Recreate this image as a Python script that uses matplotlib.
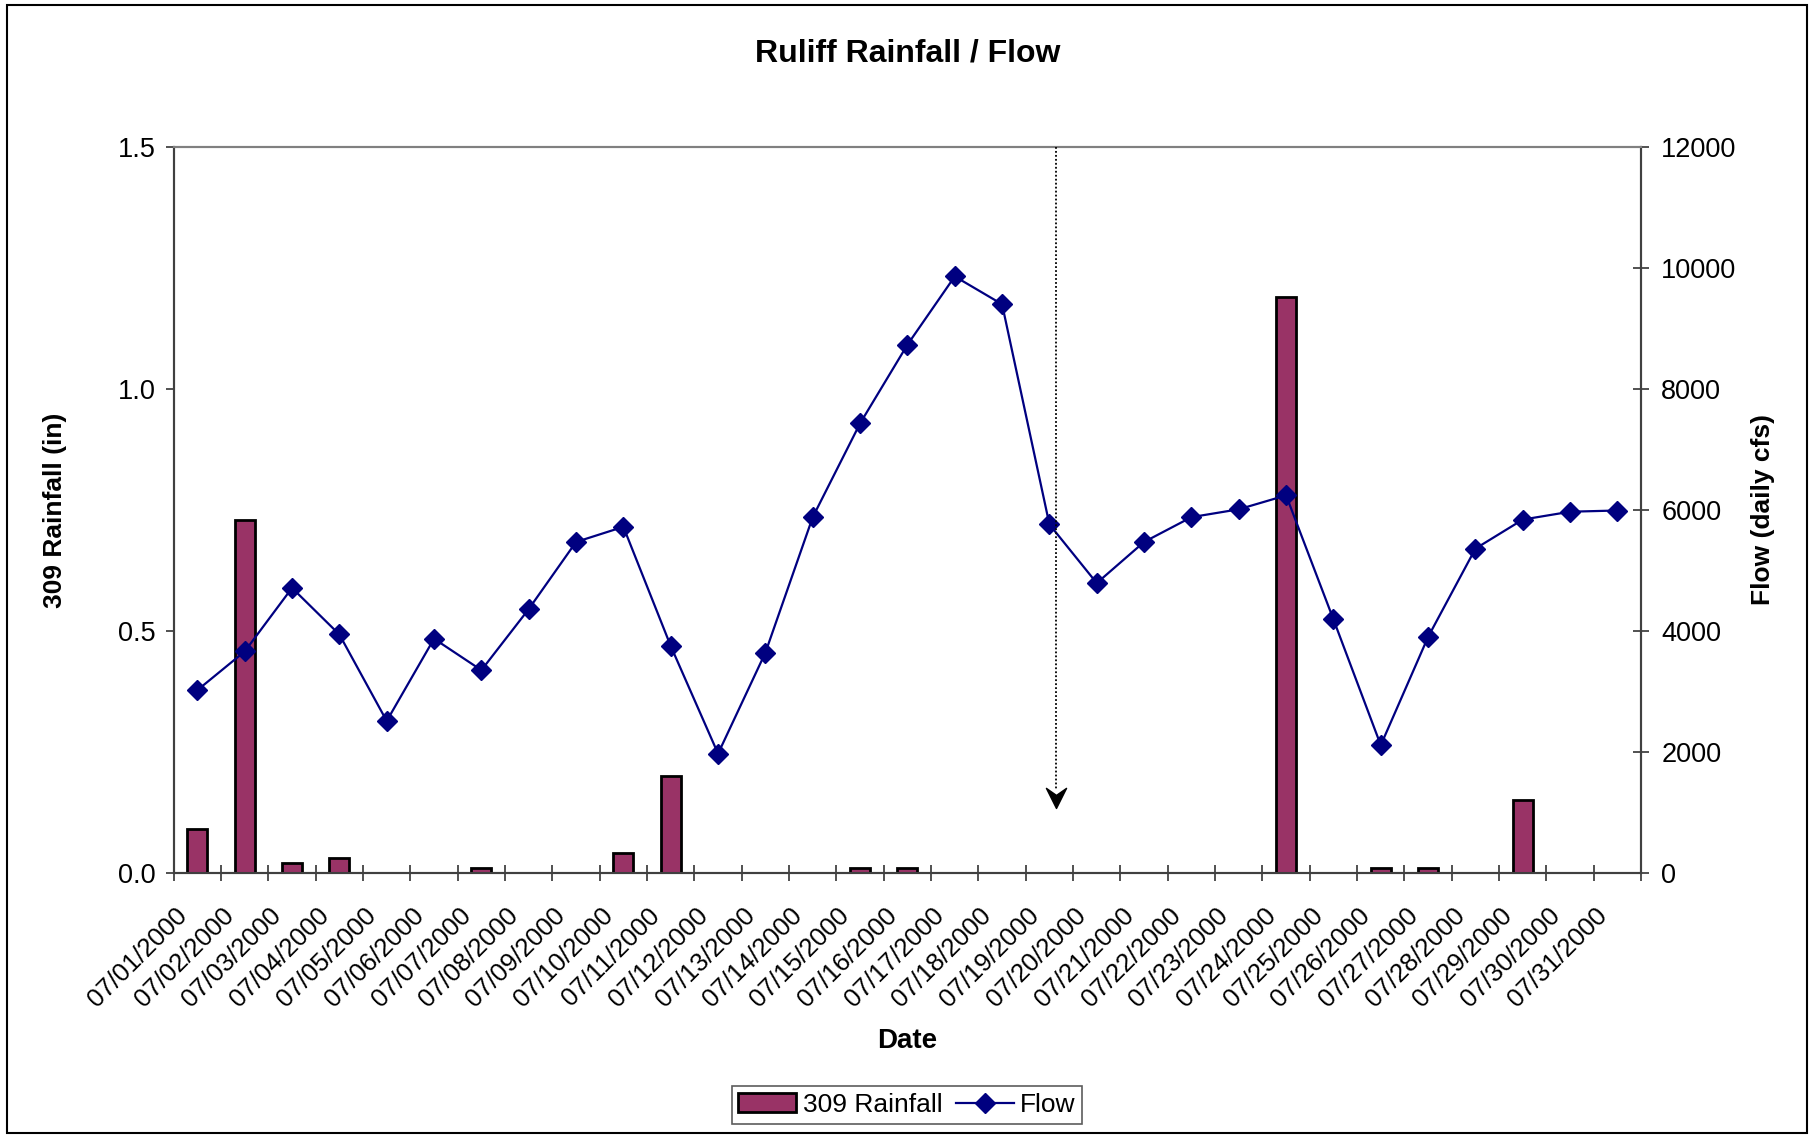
import numpy as np
import matplotlib
matplotlib.use("Agg")
import matplotlib.pyplot as plt
from matplotlib.patches import Rectangle
from matplotlib.path import Path

plt.rcParams["font.family"] = ["Liberation Sans", "DejaVu Sans"]

dates = [f"07/{d:02d}/2000" for d in range(1, 32)]
rainfall = [0.09, 0.73, 0.02, 0.03, 0.0, 0.0, 0.01, 0.0, 0.0, 0.04,
            0.20, 0.0, 0.0, 0.0, 0.01, 0.01, 0.0, 0.0, 0.0, 0.0,
            0.0, 0.0, 0.0, 1.19, 0.0, 0.01, 0.01, 0.0, 0.15, 0.0, 0.0]
flow = [3020, 3660, 4710, 3940, 2510, 3870, 3350, 4360, 5470, 5720,
        3750, 1970, 3640, 5880, 7430, 8730, 9860, 9400, 5760, 4790,
        5470, 5880, 6010, 6240, 4190, 2110, 3900, 5360, 5840, 5970, 5990]
# dotted arrow pointing down near 07/19
arrow_x = 18.14
arrow_tip = 1070

bar_color = "#993366"
line_color = "#000080"

fig = plt.figure(figsize=(18.15, 11.35), dpi=100)
ax = fig.add_axes([0.0957, 0.2310, 0.8085, 0.6395])
ax2 = ax.twinx()

x = np.arange(len(dates))
ax.bar(x, rainfall, width=0.42, color=bar_color, edgecolor="black", linewidth=2,
       label="309 Rainfall", zorder=3)
ax2.plot(x, flow, color=line_color, lw=1.6, marker="D", ms=10, label="Flow", zorder=3)

# arrow: dotted shaft + stealth head
ax2.plot([arrow_x, arrow_x], [12000, arrow_tip + 300], color="black", lw=1.3,
         ls=(0, (1, 1.2)), zorder=4)
head = Path([(0, 0), (-1, 2), (0, 1.3), (1, 2), (0, 0)],
            [Path.MOVETO, Path.LINETO, Path.LINETO, Path.LINETO, Path.CLOSEPOLY])
ax2.plot([arrow_x], [arrow_tip], marker=head, ms=29, color="black", lw=0, zorder=5)

ax.set_xlim(-0.5, len(dates) - 0.5)
ax.set_ylim(0, 1.5)
ax2.set_ylim(0, 12000)

ax.set_yticks([0.0, 0.5, 1.0, 1.5])
ax.set_yticklabels(["0.0", "0.5", "1.0", "1.5"])
ax2.set_yticks(np.arange(0, 12001, 2000))

ax.set_xticks(np.arange(-0.5, len(dates)), minor=False)
ax.set_xticklabels([])
ax.set_xticks(x - 0.48, minor=True)
ax.set_xticklabels(dates, minor=True, rotation=45, ha="right", va="top",
                   rotation_mode="anchor", fontsize=18.5)
ax.tick_params(axis="x", which="minor", length=0, pad=22)
ax.tick_params(axis="x", which="major", direction="inout", length=11, width=1.2,
               color="#333333")
ax.tick_params(axis="y", direction="out", length=6, width=1.2, pad=7,
               labelsize=19.5, color="#333333")
ax2.tick_params(axis="y", direction="inout", length=11, width=1.2, pad=9,
                labelsize=19.5, color="#333333")

for a in (ax, ax2):
    for side in ("left", "right", "bottom"):
        a.spines[side].set_color("#404040")
        a.spines[side].set_linewidth(1.5)
    a.spines["top"].set_color("#808080")
    a.spines["top"].set_linewidth(1.5)

ax.set_xlabel("Date", fontsize=20, fontweight="bold")
ax.set_ylabel("309 Rainfall (in)", fontsize=19, fontweight="bold")
ax2.set_ylabel("Flow (daily cfs)", fontsize=19, fontweight="bold")
ax.yaxis.set_label_coords(-0.073, 0.5)
ax2.yaxis.set_label_coords(1.075, 0.5)
ax.xaxis.set_label_coords(0.5, -0.214)

fig.text(0.5, 0.953, "Ruliff Rainfall / Flow", fontsize=23, fontweight="bold",
         ha="center", va="center")

h1, l1 = ax.get_legend_handles_labels()
h2, l2 = ax2.get_legend_handles_labels()
leg = fig.legend(h1 + h2, l1 + l2, loc="center", bbox_to_anchor=(0.4997, 0.0265),
                 ncol=2, fontsize=19, frameon=True, fancybox=False,
                 edgecolor="#333333", handlelength=2.2, handletextpad=0.25,
                 columnspacing=0.5, borderpad=0.25)
leg.get_frame().set_linewidth(1.2)

fig.patches.append(Rectangle((0.0039, 0.0018), 0.9917, 0.9938, transform=fig.transFigure,
                             fill=False, edgecolor="black", linewidth=1.5))

fig.savefig("out.png", dpi=100)
